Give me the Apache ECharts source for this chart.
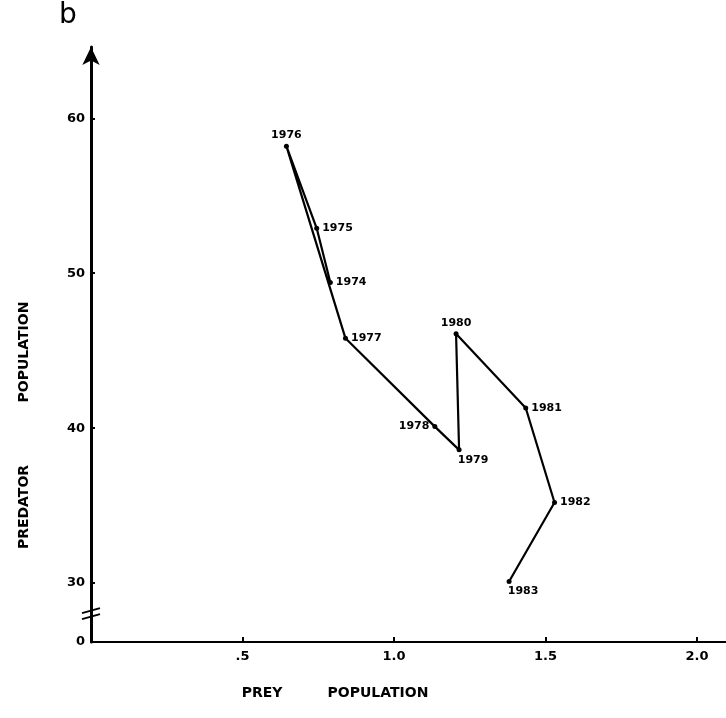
<!DOCTYPE html>
<html>
<head>
<meta charset="utf-8">
<script src="https://cdn.jsdelivr.net/npm/echarts@6/dist/echarts.min.js"></script>
<style>
  html, body { margin: 0; padding: 0; background: #fff; }
  #chart { width: 726px; height: 718px; }
</style>
</head>
<body>
<div id="chart"></div>
<script>
// predator-prey trajectory, 1974-1983
const years = ['1974', '1975', '1976', '1977', '1978', '1979', '1980', '1981', '1982', '1983']
const prey = [0.79, 0.745, 0.645, 0.84, 1.135, 1.215, 1.205, 1.435, 1.53, 1.38]
const predator = [49.4, 52.9, 58.2, 45.8, 40.1, 38.6, 46.1, 41.3, 35.2, 30.1]
const labelPos = ['right', 'right', 'top', 'right', 'left', 'bottom', 'top', 'right', 'right', 'bottom']

const xTicks = [0.5, 1.0, 1.5, 2.0]
const xTickText = ['.5', '1.0', '1.5', '2.0']
const yTicks = [30, 40, 50, 60]
const yFloor = 26.2 // where the broken axis shows "0"

const font = '"DejaVu Sans", sans-serif'
const myChart = echarts.init(document.getElementById('chart'))

const data = years.map((y, i) => ({
  value: [prey[i], predator[i]],
  label: {
    show: true,
    formatter: y,
    position: labelPos[i],
    distance: labelPos[i] === 'bottom' ? 2 : 3,
    offset: labelPos[i] === 'bottom' ? [14, 0] : [0, 0],
  },
}))

myChart.setOption({
  animation: false,
  backgroundColor: '#fff',
  grid: { left: 91, right: 0, top: 47, bottom: 76 },
  xAxis: {
    type: 'value',
    min: 0,
    max: 2.096,
    splitLine: { show: false },
    axisLine: { lineStyle: { color: '#000', width: 2 } },
    axisTick: { inside: true, length: 5, customValues: xTicks, lineStyle: { color: '#000', width: 2 } },
    axisLabel: {
      customValues: xTicks,
      formatter: v => xTickText[xTicks.findIndex(t => Math.abs(t - v) < 1e-6)],
      color: '#000',
      fontFamily: font,
      fontWeight: 'bold',
      fontSize: 13,
      margin: 8,
    },
  },
  yAxis: {
    type: 'value',
    min: yFloor,
    max: 64.6,
    splitLine: { show: false },
    axisLine: {
      onZero: false,
      symbol: ['none', 'arrow'],
      symbolSize: [13, 18],
      lineStyle: { color: '#000', width: 3 },
    },
    axisTick: { inside: true, length: 4, customValues: yTicks, lineStyle: { color: '#000', width: 2 } },
    axisLabel: {
      customValues: [yFloor].concat(yTicks),
      formatter: v => (v < 30 ? '0' : String(v)),
      color: '#000',
      fontFamily: font,
      fontWeight: 'bold',
      fontSize: 13,
      margin: 6,
    },
  },
  series: [
    {
      type: 'line',
      data: data,
      symbol: 'circle',
      symbolSize: 5,
      itemStyle: { color: '#000' },
      lineStyle: { color: '#000', width: 2.2 },
      label: {
        color: '#000',
        fontFamily: font,
        fontWeight: 'bold',
        fontSize: 11,
      },
    },
  ],
})

// axis titles, panel letter and the break mark on the y axis
const breakY = myChart.convertToPixel({ gridIndex: 0 }, [0, 28])[1]
const axisX = myChart.convertToPixel({ gridIndex: 0 }, [0, 30])[0]
const titleFont = 'bold 14px ' + font
myChart.setOption({
  graphic: [
    {
      type: 'text', left: 59, top: 2,
      style: { text: 'b', font: '28px ' + font, fill: '#000' },
    },
    {
      type: 'text', x: 262, y: 693,
      style: { text: 'PREY', font: titleFont, fill: '#000', align: 'center', verticalAlign: 'middle' },
    },
    {
      type: 'text', x: 378, y: 693,
      style: { text: 'POPULATION', font: titleFont, fill: '#000', align: 'center', verticalAlign: 'middle' },
    },
    {
      type: 'text', x: 24, y: 507, rotation: Math.PI / 2,
      style: { text: 'PREDATOR', font: titleFont, fill: '#000', align: 'center', verticalAlign: 'middle' },
    },
    {
      type: 'text', x: 24, y: 352, rotation: Math.PI / 2,
      style: { text: 'POPULATION', font: titleFont, fill: '#000', align: 'center', verticalAlign: 'middle' },
    },
    {
      type: 'rect', x: axisX - 3, y: breakY - 5,
      shape: { width: 6, height: 10 },
      style: { fill: '#fff' },
    },
    {
      type: 'line',
      shape: { x1: axisX - 9, y1: breakY - 1, x2: axisX + 9, y2: breakY - 6 },
      style: { stroke: '#000', lineWidth: 2 },
    },
    {
      type: 'line',
      shape: { x1: axisX - 9, y1: breakY + 5, x2: axisX + 9, y2: breakY },
      style: { stroke: '#000', lineWidth: 2 },
    },
  ],
})
</script>
</body>
</html>
